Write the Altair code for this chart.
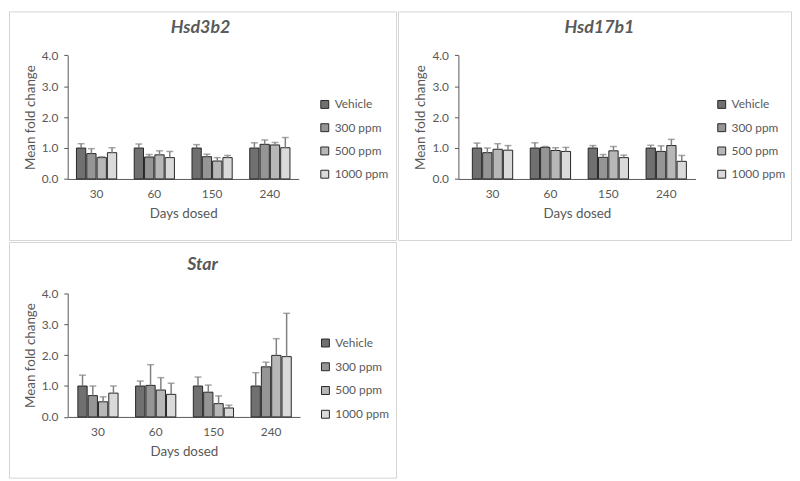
import altair as alt
import pandas as pd

days = ["30", "60", "150", "240"]
groups = ["Vehicle", "300 ppm", "500 ppm", "1000 ppm"]
colors = ["#707070", "#959595", "#b7b7b7", "#dadada"]

# mean fold change, one list per day (Vehicle, 300, 500, 1000 ppm)
hsd3b2_mean = [[1.00, 0.82, 0.69, 0.85],
               [1.00, 0.71, 0.78, 0.69],
               [1.00, 0.72, 0.58, 0.69],
               [1.00, 1.12, 1.10, 1.01]]
hsd3b2_err = [[0.14, 0.16, 0.03, 0.16],
              [0.13, 0.08, 0.13, 0.20],
              [0.11, 0.08, 0.11, 0.07],
              [0.17, 0.14, 0.08, 0.33]]

hsd17b1_mean = [[1.00, 0.85, 0.96, 0.93],
                [1.00, 1.02, 0.92, 0.89],
                [1.00, 0.70, 0.91, 0.69],
                [1.00, 0.89, 1.08, 0.57]]
hsd17b1_err = [[0.16, 0.15, 0.18, 0.15],
               [0.17, 0.03, 0.09, 0.13],
               [0.08, 0.09, 0.14, 0.08],
               [0.09, 0.18, 0.20, 0.19]]

star_mean = [[1.00, 0.69, 0.49, 0.77],
             [1.00, 1.02, 0.87, 0.73],
             [1.00, 0.80, 0.43, 0.29],
             [1.00, 1.62, 1.99, 1.95]]
star_err = [[0.35, 0.31, 0.16, 0.23],
            [0.16, 0.67, 0.40, 0.36],
            [0.29, 0.23, 0.25, 0.09],
            [0.43, 0.15, 0.54, 1.40]]

FONT = "Lato"
TXT = "#595959"


def make_df(means, errs):
    rows = []
    for di, d in enumerate(days):
        for gi, g in enumerate(groups):
            m = means[di][gi]
            e = errs[di][gi]
            rows.append({"day": d, "group": g, "mean": m, "upper": m + e})
    return pd.DataFrame(rows)


def panel(name, means, errs, w, h, xr, xpo, xalign, yr, yoff, xoff, lx, ly, rp, tdx, toff):
    df = make_df(means, errs)
    xs = alt.Scale(domain=days, range=xr, paddingInner=0.286, paddingOuter=xpo, align=xalign)
    ys = alt.Scale(domain=[0, 4], range=yr, nice=False, zero=True)
    xos = alt.Scale(domain=groups, paddingInner=0.1, paddingOuter=0.05)
    xaxis = alt.Axis(title="Days dosed", offset=xoff, labelAngle=0, ticks=False, tickSize=0,
                     labelPadding=10, titlePadding=7, labelFontSize=12, titleFontSize=13.5)
    yaxis = alt.Axis(title="Mean fold change", offset=yoff, values=[0, 1, 2, 3, 4], format=".1f",
                     grid=False, tickSize=4, labelPadding=6, titlePadding=4,
                     labelFontSize=12, titleFontSize=13.5)
    X = alt.X("day:N", scale=xs, sort=days, axis=xaxis)
    XO = alt.XOffset("group:N", scale=xos, sort=groups)
    base = alt.Chart(df)
    bars = base.mark_bar(stroke="#262626", strokeWidth=1).encode(
        x=X, xOffset=XO,
        y=alt.Y("mean:Q", scale=ys, axis=yaxis),
        color=alt.Color("group:N", sort=groups,
                        scale=alt.Scale(domain=groups, range=colors),
                        legend=alt.Legend(title=None, orient="none", legendX=lx, legendY=ly,
                                          symbolType="square", symbolSize=64,
                                          symbolStrokeColor="#262626", symbolStrokeWidth=1,
                                          labelFontSize=12, labelColor=TXT, labelFont=FONT,
                                          rowPadding=rp, padding=0, labelOffset=4)),
    )
    rules = base.mark_rule(color="#808080", strokeWidth=1.5).encode(
        x=X, xOffset=XO,
        y=alt.Y("mean:Q", title="Mean fold change"), y2="upper:Q",
    )
    caps = base.mark_tick(color="#808080", thickness=1.5, size=7).encode(
        x=X, xOffset=XO,
        y=alt.Y("upper:Q", title="Mean fold change"),
    )
    return alt.layer(bars, rules, caps).properties(
        width=w, height=h,
        title=alt.TitleParams(text=name, fontSize=18, fontStyle="italic", fontWeight="bold",
                              color=TXT, font=FONT, anchor="middle", frame="group",
                              offset=toff, dx=tdx),
    )


p1 = panel("Hsd3b2", hsd3b2_mean, hsd3b2_err, 391, 231,
           [59.3, 292.7], 0.143, 0.5, [169.3, 44.3], -59.3, -61.7, 313, 88, 11.5, -2, -25.5)
p2 = panel("Hsd17b1", hsd17b1_mean, hsd17b1_err, 397, 231,
           [61, 300.5], 0.19, 0.61, [169.3, 44.3], -61, -61.7, 321, 88, 11.5, 5, -25.5)
p3 = panel("Star", star_mean, star_err, 391, 238,
           [59.3, 294], 0.155, 0.54, [176.7, 51.7], -59.3, -61.3, 313.7, 96, 12, 0, -32)

res = dict(x="independent", y="independent", xOffset="independent", color="independent")
top = alt.hconcat(p1, p2, spacing=0).resolve_scale(**res).resolve_legend(color="independent")
chart = alt.vconcat(top, p3, spacing=0).resolve_scale(**res).resolve_legend(color="independent")

chart = chart.properties(padding={"left": 0, "top": 0, "right": 0, "bottom": 0}).configure_view(
    stroke="#d4d4d4", strokeWidth=1
).configure_axis(
    labelFont=FONT, titleFont=FONT, labelColor=TXT, titleColor=TXT, titleFontWeight="normal",
    domainColor="#595959", tickColor="#595959", domainWidth=1
)

chart.save("out.html", embed_options={"renderer": "svg", "actions": False})
